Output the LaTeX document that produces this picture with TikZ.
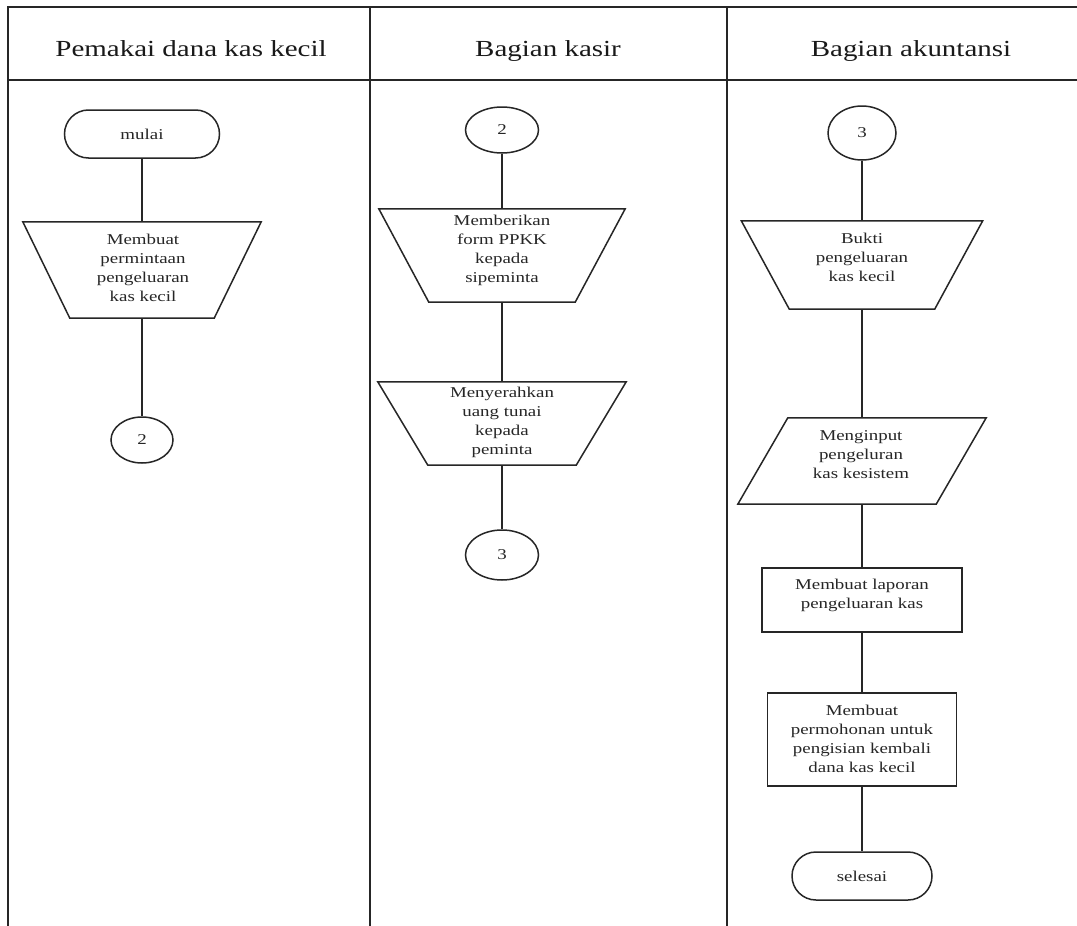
\documentclass[tikz,border=0pt]{standalone}
\usepackage{fontspec}
\setmainfont{Liberation Serif}[FakeStretch=1.26]
\usetikzlibrary{shapes.geometric}
\begin{document}
\begin{tikzpicture}[x=1pt,y=-1pt,
  line/.style={line width=1.5pt, draw=black!85},
  txt/.style={font=\fontsize{15}{19}\selectfont, align=center, text=black!85},
  conn/.style={draw=black!85, ellipse, line width=1.5pt, inner sep=0pt, txt},
  term/.style={draw=black!85, rectangle, rounded corners=24pt, line width=1.5pt, inner sep=0pt, txt},
  proc/.style={draw=black!85, rectangle, line width=1.5pt, inner sep=0pt},
  shp/.style={rectangle, inner sep=0pt},
  hdr/.style={font=\fontsize{23}{28}\selectfont, text=black!90, anchor=base}]

\useasboundingbox (0,0) rectangle (1077,926);
\fill[white] (0,0) rectangle (1077,926);

% lanes
\draw[line] (8,926) -- (8,7) -- (1077,7);
\draw[line] (370,7) -- (370,926);
\draw[line] (727,7) -- (727,926);
\draw[line width=2.5pt, draw=black!85] (8,80) -- (1077,80);

\node[hdr] (h1) at (191,56) {Pemakai dana kas kecil};
\node[hdr] (h2) at (548,56) {Bagian kasir};
\node[hdr] (h3) at (911,56) {Bagian akuntansi};

% column 1
\node[term, minimum width=155pt, minimum height=48pt] (mulai) at (142,134) {mulai};
\node[shp, minimum width=238pt, minimum height=96pt] (t1) at (142,270) {};
\draw[line] (t1.north west) -- (t1.north east) -- ([xshift=-47pt]t1.south east) -- ([xshift=47pt]t1.south west) -- cycle;
\node[txt] (t1x) at (143,268) {Membuat\\permintaan\\pengeluaran\\kas kecil};
\node[conn, minimum width=62pt, minimum height=46pt] (c2a) at (142,440) {2};
\draw[line] (mulai) -- (t1);
\draw[line] (t1) -- (c2a);

% column 2
\node[conn, minimum width=73pt, minimum height=46pt] (c2b) at (502,130) {2};
\node[shp, minimum width=246pt, minimum height=93pt] (t2) at (502,255.5) {};
\draw[line] (t2.north west) -- (t2.north east) -- ([xshift=-50pt]t2.south east) -- ([xshift=50pt]t2.south west) -- cycle;
\node[txt] (t2x) at (502,250) {Memberikan\\form PPKK\\kepada\\sipeminta};
\node[shp, minimum width=248pt, minimum height=83pt] (t3) at (502,423.5) {};
\draw[line] (t3.north west) -- (t3.north east) -- ([xshift=-50pt]t3.south east) -- ([xshift=50pt]t3.south west) -- cycle;
\node[txt] (t3x) at (502,422) {Menyerahkan\\uang tunai\\kepada\\peminta};
\node[conn, minimum width=73pt, minimum height=50pt] (c3a) at (502,555) {3};
\draw[line] (c2b) -- (t2);
\draw[line] (t2) -- (t3);
\draw[line] (t3) -- (c3a);

% column 3
\node[conn, minimum width=68pt, minimum height=54pt] (c3b) at (862,133) {3};
\node[shp, minimum width=241pt, minimum height=88pt] (t4) at (862,265) {};
\draw[line] (t4.north west) -- (t4.north east) -- ([xshift=-48pt]t4.south east) -- ([xshift=48pt]t4.south west) -- cycle;
\node[txt] (t4x) at (862,257) {Bukti\\pengeluaran\\kas kecil};
\node[shp, minimum width=248pt, minimum height=86pt] (par) at (862,461) {};
\draw[line] ([xshift=50pt]par.north west) -- (par.north east) -- ([xshift=-50pt]par.south east) -- (par.south west) -- cycle;
\node[txt] (parx) at (861,455) {Menginput\\pengeluran\\kas kesistem};
\node[proc, minimum width=200pt, minimum height=64pt] (r1) at (862,600) {};
\node[txt] (r1x) at (862,595) {Membuat laporan\\pengeluaran kas};
\node[proc, minimum width=189pt, minimum height=93pt] (r2) at (862,739.5) {};
\node[txt] (r2x) at (862,739) {Membuat\\permohonan untuk\\pengisian kembali\\dana kas kecil};
\node[term, minimum width=140pt, minimum height=48pt] (selesai) at (862,876) {selesai};
\draw[line] (c3b) -- (t4);
\draw[line] (t4) -- (par);
\draw[line] (par) -- (r1);
\draw[line] (r1) -- (r2);
\draw[line] (r2) -- (selesai);
\end{tikzpicture}
\end{document}
